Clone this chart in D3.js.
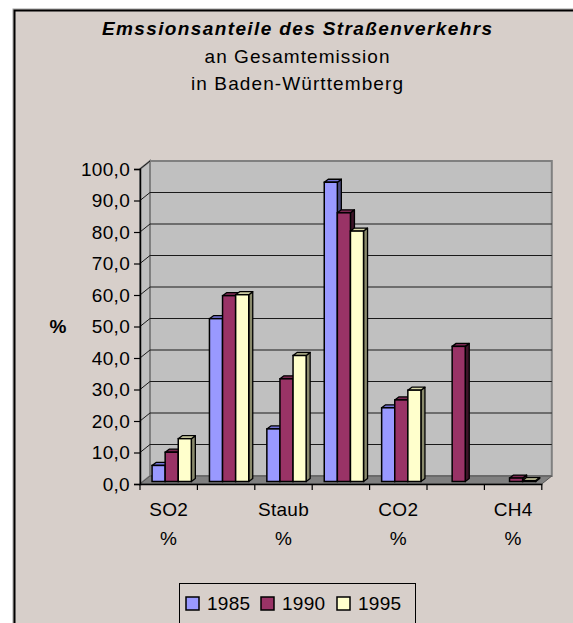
<!DOCTYPE html>
<html>
<head>
<meta charset="utf-8">
<script src="https://cdn.jsdelivr.net/npm/d3@7"></script>
<style>
  html, body { margin: 0; padding: 0; background: #ffffff; }
  svg { display: block; }
  text { font-family: "Liberation Sans", Arial, sans-serif; fill: #000; }
</style>
</head>
<body>
<svg id="chart" width="573" height="623"></svg>
<script>
// ---- data ----
const categories = ["SO2 %", "NOx %", "Staub %", "CO %", "CO2 %", "NMVOC %", "CH4 %"];
const shownLabels = [true, false, true, false, true, false, true];
const series = ["1985", "1990", "1995"];
const v1985 = [5.1, 51.7, 16.7, 95.0, 23.4, null, null];
const v1990 = [9.3, 59.0, 32.6, 85.3, 25.9, 42.9, 1.1];
const v1995 = [13.6, 59.3, 40.0, 79.5, 29.0, null, 0.3];
const yTicks = [0, 10, 20, 30, 40, 50, 60, 70, 80, 90, 100];
const titleLines = ["Emssionsanteile des Straßenverkehrs", "an Gesamtemission", "in Baden-Württemberg"];
const yAxisTitle = "%";

const values = [v1985, v1990, v1995];
const colors = { "1985": "#9999FF", "1990": "#993366", "1995": "#FFFFCC" };
const sideColors = { "1985": "#4C4C80", "1990": "#3d1428", "1995": "#8a8a6c" };
const topColors = { "1985": "#7373d6", "1990": "#7a2851", "1995": "#d6d6a8" };

// ---- layout ----
const svg = d3.select("#chart");
const bg = "#D7CFCA";
const X0 = 140, X1 = 541.8;
const depth = { dx: 10, dy: -8 };
const barFront = { dx: 3, dy: -2.5 };
const barDepth = { dx: 4, dy: -3 };
const FS = 19, LS = 0.3;

const x = d3.scaleBand().domain(categories).range([X0, X1]).paddingInner(0).paddingOuter(0);
const xs = d3.scaleBand().domain(series).range([0, x.bandwidth()]).paddingInner(0).paddingOuter(0.691);
const y = d3.scaleLinear().domain([0, 100]).range([484, 169]);

// frame
svg.append("rect").attr("x", 0).attr("y", 0).attr("width", 573).attr("height", 623).attr("fill", "#ffffff");
svg.append("rect").attr("x", 13).attr("y", 9).attr("width", 620).attr("height", 650)
  .attr("fill", bg).attr("stroke", "#a0a0a0").attr("stroke-width", 1);
svg.append("rect").attr("x", 14.5).attr("y", 10.5).attr("width", 620).attr("height", 650)
  .attr("fill", bg).attr("stroke", "#000").attr("stroke-width", 2);

// titles
const titleY = [35, 63, 90];
const titleLen = [390, 185, 212];
titleLines.forEach((t, i) => {
  svg.append("text")
    .attr("x", 297).attr("y", titleY[i])
    .attr("text-anchor", "middle")
    .attr("font-size", FS)
    .attr("font-weight", i === 0 ? "bold" : "normal")
    .attr("font-style", i === 0 ? "italic" : "normal")
    .attr("textLength", titleLen[i])
    .attr("lengthAdjust", "spacing")
    .text(t);
});

// walls
const g = svg.append("g");
const yTop = y(100), yBot = y(0);
g.append("rect")
  .attr("x", X0 + depth.dx).attr("y", yTop + depth.dy)
  .attr("width", X1 - X0).attr("height", yBot - yTop)
  .attr("fill", "#C0C0C0").attr("stroke", "#808080").attr("stroke-width", 2);
g.append("polygon")
  .attr("points", [[X0, yTop], [X0 + depth.dx, yTop + depth.dy], [X0 + depth.dx, yBot + depth.dy], [X0, yBot]].map(p => p.join(",")).join(" "))
  .attr("fill", "#C0C0C0").attr("stroke", "#808080").attr("stroke-width", 2);
yTicks.forEach(t => {
  if (t === 0) return;
  const yy = y(t);
  g.append("line")
    .attr("x1", X0 + depth.dx).attr("x2", X1 + depth.dx)
    .attr("y1", yy + depth.dy).attr("y2", yy + depth.dy)
    .attr("stroke", t === 100 ? "none" : "#1a1a1a").attr("stroke-width", 1);
  g.append("line")
    .attr("x1", X0).attr("x2", X0 + depth.dx)
    .attr("y1", yy).attr("y2", yy + depth.dy)
    .attr("stroke", "#1a1a1a").attr("stroke-width", 1);
});
g.append("polygon")
  .attr("points", [[X0, yBot], [X0 + depth.dx, yBot + depth.dy], [X1 + depth.dx, yBot + depth.dy], [X1, yBot]].map(p => p.join(",")).join(" "))
  .attr("fill", "#808080").attr("stroke", "#555").attr("stroke-width", 1);

// bars
const bars = svg.append("g");
const bw = xs.bandwidth();
categories.forEach((c, ci) => {
  series.forEach((s, si) => {
    const v = values[si][ci];
    if (v === null || v === undefined) return;
    const fx = x(c) + xs(s) + barFront.dx;
    const fyTop = y(v) + barFront.dy;
    const fyBot = y(0) + barFront.dy;
    const dx = barDepth.dx, dy = barDepth.dy;
    bars.append("polygon")
      .attr("points", [[fx + bw, fyTop], [fx + bw + dx, fyTop + dy], [fx + bw + dx, fyBot + dy], [fx + bw, fyBot]].map(p => p.join(",")).join(" "))
      .attr("fill", sideColors[s]).attr("stroke", "#000").attr("stroke-width", 1.3).attr("stroke-linejoin", "round");
    bars.append("polygon")
      .attr("points", [[fx, fyTop], [fx + dx, fyTop + dy], [fx + bw + dx, fyTop + dy], [fx + bw, fyTop]].map(p => p.join(",")).join(" "))
      .attr("fill", topColors[s]).attr("stroke", "#000").attr("stroke-width", 1.3).attr("stroke-linejoin", "round");
    bars.append("rect")
      .attr("x", fx).attr("y", fyTop).attr("width", bw).attr("height", fyBot - fyTop)
      .attr("fill", colors[s]).attr("stroke", "#000").attr("stroke-width", 1.5);
  });
});

// y axis
const fmt = d => d3.format(".1f")(d).replace(".", ",");
const yAxis = svg.append("g").attr("transform", `translate(${X0},0)`)
  .call(d3.axisLeft(y).tickValues(yTicks).tickSize(6).tickPadding(4).tickFormat(fmt));
yAxis.select(".domain").attr("stroke", "#000").attr("stroke-width", 1.5);
yAxis.selectAll(".tick line").attr("stroke", "#000").attr("stroke-width", 1.2);
yAxis.selectAll(".tick text")
  .attr("font-family", "Liberation Sans, Arial, sans-serif")
  .attr("font-size", FS).attr("letter-spacing", LS).attr("fill", "#000");

// x axis
const xAxis = svg.append("g").attr("transform", `translate(0,${y(0)})`)
  .call(d3.axisBottom(x).tickSize(0).tickFormat(""));
xAxis.select(".domain").attr("stroke", "#000").attr("stroke-width", 1.5);
const bounds = categories.map(c => x(c)).concat([X1]);
xAxis.selectAll(".bnd").data(bounds).enter().append("line")
  .attr("x1", d => d).attr("x2", d => d).attr("y1", 0).attr("y2", 6)
  .attr("stroke", "#000").attr("stroke-width", 1.2);
categories.forEach((c, i) => {
  if (!shownLabels[i]) return;
  const parts = c.split(" ");
  const cx = x(c) + x.bandwidth() / 2;
  parts.forEach((p, j) => {
    svg.append("text").attr("x", cx).attr("y", 516 + j * 29)
      .attr("text-anchor", "middle").attr("font-size", FS).attr("letter-spacing", LS)
      .text(p);
  });
});

// y axis title
svg.append("text").attr("x", 58).attr("y", 333).attr("text-anchor", "middle")
  .attr("font-size", FS).attr("font-weight", "bold").text(yAxisTitle);

// legend
const leg = svg.append("g");
leg.append("rect").attr("x", 179.5).attr("y", 583.5).attr("width", 236).attr("height", 60)
  .attr("fill", bg).attr("stroke", "#000").attr("stroke-width", 1);
const legX = [186, 261, 337];
series.forEach((s, i) => {
  leg.append("rect").attr("x", legX[i]).attr("y", 597).attr("width", 13).attr("height", 13)
    .attr("fill", colors[s]).attr("stroke", "#000").attr("stroke-width", 1.5);
  leg.append("text").attr("x", legX[i] + 21).attr("y", 610)
    .attr("font-size", FS).attr("letter-spacing", LS).text(s);
});
</script>
</body>
</html>
